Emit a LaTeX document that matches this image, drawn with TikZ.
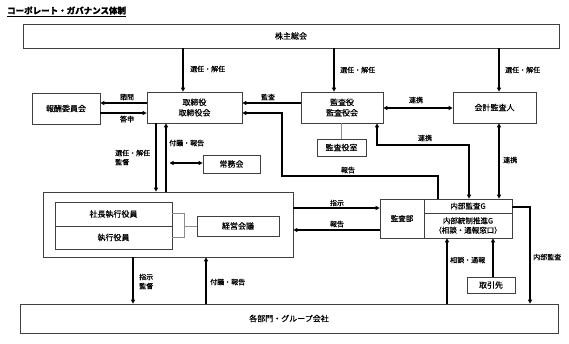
\documentclass[tikz,border=0pt]{standalone}
\usepackage{fontspec}
\setmainfont{Noto Sans CJK JP}[FakeBold=0.5]
\usetikzlibrary{arrows.meta,shadows}
\begin{document}
\begin{tikzpicture}[x=1pt,y=-1pt,
  box/.style={draw=black!75,line width=0.7pt,fill=white,inner sep=0pt,align=center,
    font=\fontsize{8}{10.5}\selectfont,
    drop shadow={shadow xshift=1.3pt,shadow yshift=-1.3pt,fill=black!40,opacity=1}},
  sbox/.style={box,font=\fontsize{7.5}{9.5}\selectfont},
  lab/.style={font=\fontsize{7}{9}\selectfont,inner sep=0pt},
  arr/.style={line width=1.25pt,-{Triangle[length=4pt,width=4pt]}},
  darr/.style={line width=1.25pt,{Triangle[length=4pt,width=4pt]}-{Triangle[length=4pt,width=4pt]}},
  gline/.style={draw=black!45,line width=0.8pt}]
\useasboundingbox[fill=white] (0,0) rectangle (569,343);

% title
\node[anchor=west,inner sep=0pt,font=\bfseries\fontsize{8.5}{10}\selectfont] (title) at (7,11.5) {\underline{コーポレート・ガバナンス体制}};

% boxes
\node[box,minimum width=536pt,minimum height=24pt] (sh) at (291,36) {株主総会};
\node[box,minimum width=68pt,minimum height=31pt] (hoshu) at (66,108.5) {報酬委員会};
\node[box,minimum width=95pt,minimum height=31pt] (tori) at (194.5,107.5) {取締役\\取締役会};
\node[box,minimum width=82pt,minimum height=31pt] (kansa) at (342,107.5) {監査役\\監査役会};
\node[box,minimum width=49pt,minimum height=17pt] (kansashitsu) at (341.5,147.5) {監査役室};
\node[box,minimum width=83pt,minimum height=31pt] (kaikei) at (494.5,107.5) {会計監査人};
\node[box,minimum width=57pt,minimum height=18pt] (jomu) at (231.5,164) {常務会};
\node[box,minimum width=250pt,minimum height=65pt] (exec) at (168,224.5) {};
\node[box,minimum width=117pt,minimum height=24pt] (shacho) at (113.5,214) {社長執行役員};
\node[box,minimum width=117pt,minimum height=23pt] (shikko) at (113.5,237.5) {執行役員};
\node[box,minimum width=82pt,minimum height=20pt] (keiei) at (238,226) {経営会議};
\node[sbox,minimum width=44pt,minimum height=39pt] (kansabu) at (402,218.5) {監査部};
\node[sbox,minimum width=88pt,minimum height=14pt] (naibuG) at (468,206) {内部監査G};
\node[sbox,minimum width=88pt,minimum height=25pt] (toseiG) at (468,225.5) {内部統制推進G\\（相談・通報窓口）};
\node[box,minimum width=48pt,minimum height=16pt] (torihiki) at (491,285) {取引先};
\node[box,minimum width=538pt,minimum height=29pt] (kakubu) at (289,318.5) {各部門・グループ会社};

% connectors
\draw[arr] (sh.south -| 183,0) -- (tori.north -| 183,0);
\draw[arr] (sh.south -| 334,0) -- (kansa.north -| 334,0);
\draw[arr] (sh.south -| 499,0) -- (kaikei.north -| 499,0);
\draw[arr] (tori.west |- 0,103) -- (hoshu.east |- 0,103);
\draw[arr] (hoshu.east |- 0,113) -- (tori.west |- 0,113);
\draw[arr] (kansa.west |- 0,103) -- (tori.east |- 0,103);
\draw[darr] (kansa.east |- 0,108) -- (kaikei.west |- 0,108);
\draw[gline] (kansashitsu.north) -- (kansashitsu.north |- kansa.south);
\draw[darr] (naibuG.north -| 469,0) |- (377,145) -- (kansa.south -| 377,0);
\draw[darr] (kaikei.south -| 499,0) -- (naibuG.north -| 499,0);
\draw[arr] (naibuG.north -| 438,0) |- (282,176) |- (tori.east |- 0,113);
\draw[arr] (tori.south -| 156,0) -- (exec.north -| 156,0);
\draw[arr] (exec.north -| 166,0) -- (tori.south -| 166,0);
\coordinate (jl) at (169.5,163);
\draw[darr] (jl) -- (jomu.west |- jl);
\draw[arr] (exec.east |- 0,208) -- (kansabu.west |- 0,208);
\draw[arr] (kansabu.west |- 0,230) -- (exec.east |- 0,230);
\draw[arr] (exec.south -| 133,0) -- (kakubu.north -| 133,0);
\draw[arr] (kakubu.north -| 206,0) -- (exec.south -| 206,0);
\draw[arr] (kakubu.north -| 447,0) -- (toseiG.south -| 447,0);
\draw[arr] (torihiki.north -| 493,0) -- (toseiG.south -| 493,0);
\draw[arr] (naibuG.east |- 0,207) -| (kakubu.north -| 530,0);
\draw[gline] (shacho.east |- 0,213) -| (184,237) -- (shikko.east |- 0,237);
\draw[gline] (184,226) -- (keiei.west |- 0,226);

% labels
\node[lab,anchor=west] (l1) at (190,69) {選任・解任};
\node[lab,anchor=west] (l2) at (340,70) {選任・解任};
\node[lab,anchor=west] (l3) at (505,70) {選任・解任};
\node[lab] (l4) at (127,97) {諮問};
\node[lab] (l5) at (127,119) {答申};
\node[lab] (l6) at (268,97) {監査};
\node[lab] (l7) at (416,100) {連携};
\node[lab] (l8) at (425,138) {連携};
\node[lab,anchor=west] (l9) at (503,160) {連携};
\node[lab] (l10) at (348,170) {報告};
\node[lab,anchor=west,align=left] (l11) at (115,157.5) {選任・解任\\監督};
\node[lab,anchor=west] (l12) at (169,143) {付議・報告};
\node[lab,anchor=west,align=left] (l13) at (139,281.5) {指示\\監督};
\node[lab,anchor=west] (l14) at (210,282) {付議・報告};
\node[lab] (l15) at (337,203) {指示};
\node[lab] (l16) at (337,224) {報告};
\node[lab,anchor=west] (l17) at (450,260) {相談・通報};
\node[lab,anchor=west] (l18) at (533,257) {内部監査};
\end{tikzpicture}
\end{document}
